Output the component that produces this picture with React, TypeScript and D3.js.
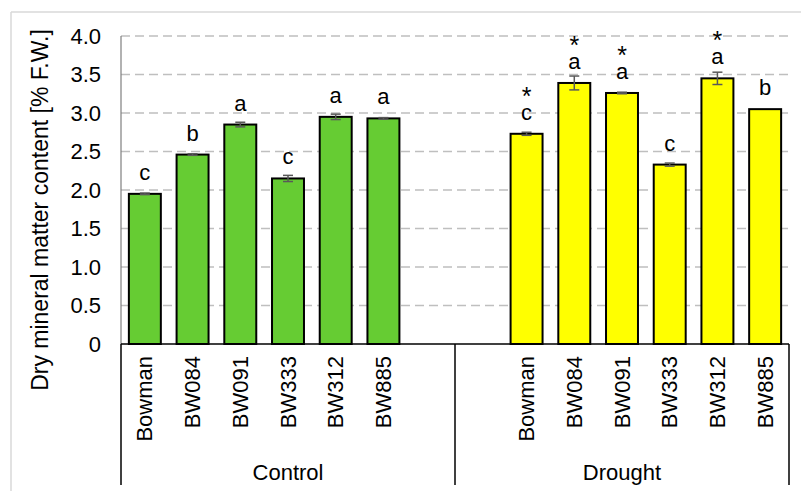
import React, { useEffect, useRef } from "react";
import * as d3 from "d3";

const categories = ["Bowman", "BW084", "BW091", "BW333", "BW312", "BW885"];
const groups = ["Control", "Drought"];
const controlValues = [1.95, 2.46, 2.85, 2.15, 2.95, 2.93];
const controlErr = [0.01, 0.01, 0.03, 0.04, 0.035, 0.01];
const droughtValues = [2.73, 3.39, 3.26, 2.33, 3.45, 3.05];
const droughtErr = [0.02, 0.09, 0.01, 0.02, 0.08, 0.0];
const controlLetters = ["c", "b", "a", "c", "a", "a"];
const droughtLetters = ["c", "a", "a", "c", "a", "b"];
const controlStars = [false, false, false, false, false, false];
const droughtStars = [true, true, true, false, true, false];
const yTicks = [0, 0.5, 1.0, 1.5, 2.0, 2.5, 3.0, 3.5, 4.0];
const yTickLabels = ["0", "0.5", "1.0", "1.5", "2.0", "2.5", "3.0", "3.5", "4.0"];
const yTitle = "Dry mineral matter content [% F.W.]";

const W = 801;
const H = 491;
const FONT = "'Liberation Sans', Arial, sans-serif";

export default function App() {
  const ref = useRef<SVGSVGElement | null>(null);

  useEffect(() => {
    document.body.style.margin = "0";
    const svg = d3.select(ref.current);
    svg.selectAll("*").remove();

    const left = 121, right = 789, top = 36, bottom = 344;

    const slots: string[] = [];
    categories.forEach((c) => slots.push("C_" + c));
    slots.push("gap1", "gap2");
    categories.forEach((c) => slots.push("D_" + c));

    const x = d3.scaleBand<string>().domain(slots).range([left, right]).paddingInner(0.33).paddingOuter(0.165);
    const y = d3.scaleLinear().domain([0, 4]).range([bottom, top]);

    // frame
    svg.append("line").attr("x1", 11).attr("x2", W).attr("y1", 12).attr("y2", 12).attr("stroke", "#d9d9d9").attr("stroke-width", 1.5);
    svg.append("line").attr("x1", 11).attr("x2", 11).attr("y1", 12).attr("y2", H).attr("stroke", "#d9d9d9").attr("stroke-width", 1.5);

    // gridlines
    svg.append("g").selectAll("line").data(yTicks.filter((t) => t > 0)).join("line")
      .attr("x1", left).attr("x2", right)
      .attr("y1", (d) => y(d)).attr("y2", (d) => y(d))
      .attr("stroke", "#bfbfbf").attr("stroke-width", 1.5).attr("stroke-dasharray", "9,5");

    // y axis line
    svg.append("line").attr("x1", left).attr("x2", left).attr("y1", top).attr("y2", bottom).attr("stroke", "#7f7f7f").attr("stroke-width", 1.2);

    // y tick labels
    svg.append("g").selectAll("text").data(yTicks).join("text")
      .attr("x", 101).attr("y", (d) => y(d))
      .attr("text-anchor", "end").attr("dominant-baseline", "central")
      .attr("font-family", FONT).attr("font-size", 22).attr("fill", "#000")
      .text((d, i) => yTickLabels[i]);

    // y title
    svg.append("text")
      .attr("transform", `translate(40,${(top + bottom) / 2 + 20}) rotate(-90)`)
      .attr("text-anchor", "middle").attr("dominant-baseline", "central")
      .attr("font-family", FONT).attr("font-size", 23).attr("fill", "#000")
      .text(yTitle);

    const series = [
      { prefix: "C_", values: controlValues, err: controlErr, letters: controlLetters, stars: controlStars, fill: "#66cc33" },
      { prefix: "D_", values: droughtValues, err: droughtErr, letters: droughtLetters, stars: droughtStars, fill: "#ffff00" },
    ];

    series.forEach((s) => {
      const g = svg.append("g");
      categories.forEach((c, i) => {
        const key = s.prefix + c;
        const bx = x(key)!;
        const bw = x.bandwidth();
        const cx = bx + bw / 2;
        const v = s.values[i];
        g.append("rect").attr("x", bx).attr("y", y(v)).attr("width", bw).attr("height", y(0) - y(v))
          .attr("fill", s.fill).attr("stroke", "#000").attr("stroke-width", 2);
        const e = s.err[i];
        if (e > 0) {
          g.append("line").attr("x1", cx).attr("x2", cx).attr("y1", y(v + e)).attr("y2", y(v - e)).attr("stroke", "#595959").attr("stroke-width", 1.5);
          [v + e, v - e].forEach((ev) => {
            g.append("line").attr("x1", cx - 5).attr("x2", cx + 5).attr("y1", y(ev)).attr("y2", y(ev)).attr("stroke", "#595959").attr("stroke-width", 1.5);
          });
        }
        const lb = y(v) - 14;
        // two-line label: optional star above the letter, one text element
        const t = g.append("text").attr("text-anchor", "middle")
          .attr("font-family", FONT).attr("fill", "#000");
        if (s.stars[i]) {
          t.append("tspan").attr("x", cx).attr("y", lb - 15).attr("font-size", 25).text("*");
        }
        t.append("tspan").attr("x", cx).attr("y", lb).attr("font-size", 22).text(s.letters[i]);

        g.append("text")
          .attr("transform", `translate(${cx},356) rotate(-90)`)
          .attr("text-anchor", "end").attr("dominant-baseline", "central")
          .attr("font-family", FONT).attr("font-size", 22).attr("fill", "#000").text(c);
      });
    });

    // x axis line
    svg.append("line").attr("x1", left).attr("x2", right).attr("y1", bottom).attr("y2", bottom).attr("stroke", "#000").attr("stroke-width", 1.5);

    // group separators
    const sepX = [left, (x("gap1")! + x("gap2")! + x.bandwidth()) / 2, right];
    svg.append("g").selectAll("line").data(sepX).join("line")
      .attr("x1", (d) => d).attr("x2", (d) => d).attr("y1", bottom).attr("y2", 485)
      .attr("stroke", "#000").attr("stroke-width", 1.5);

    groups.forEach((gName, i) => {
      svg.append("text").attr("x", (sepX[i] + sepX[i + 1]) / 2).attr("y", 480)
        .attr("text-anchor", "middle").attr("font-family", FONT).attr("font-size", 22).attr("fill", "#000").text(gName);
    });
  }, []);

  return <svg ref={ref} width={W} height={H} style={{ display: "block", background: "#fff" }} />;
}
